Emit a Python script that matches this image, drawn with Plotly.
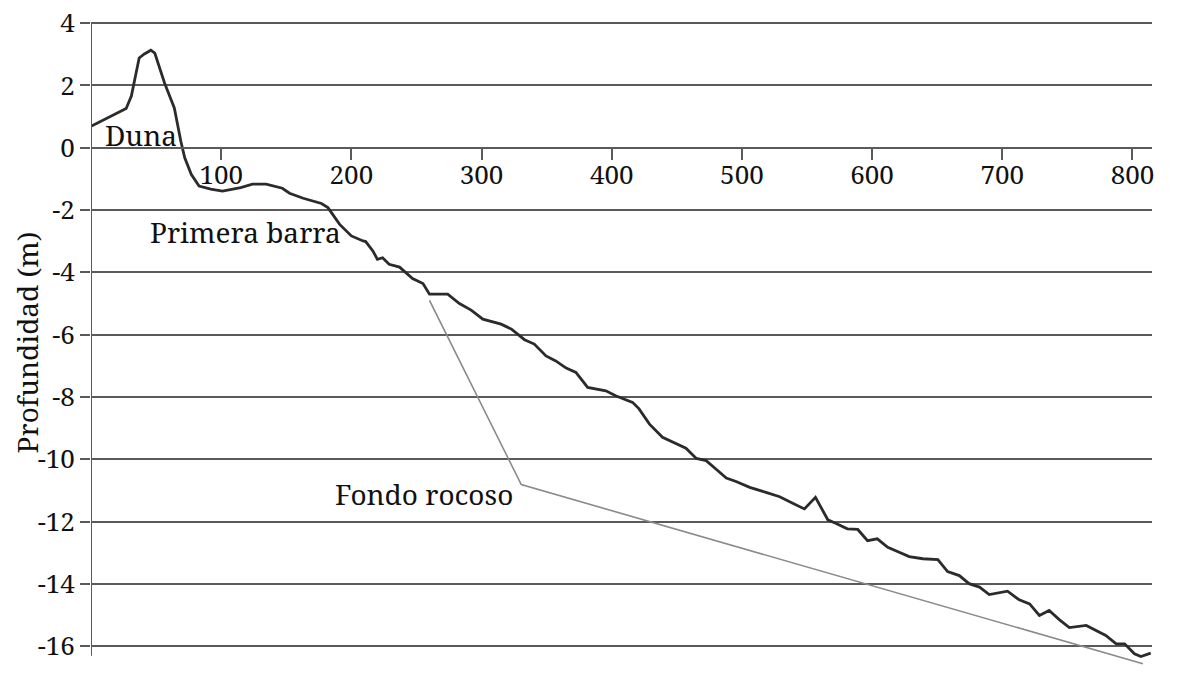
import plotly.graph_objects as go

# perfil de playa (distancia en m, cota en m)
distancia = [0, 27, 31, 37, 41, 46, 49, 56.5, 61, 64, 69, 72, 77, 83, 92, 101, 115,
             124, 134.5, 147, 152.5, 163, 177, 182, 191, 200, 209, 211, 216.5, 220, 224,
             229, 237, 247, 255, 260, 274, 283, 292, 301, 315, 323, 333, 340.5, 349.5,
             357, 365, 372.5, 381.5, 395.5, 403, 416, 421, 429, 439, 449.5, 457, 465,
             472.5, 480, 488, 495.5, 506, 518.5, 529, 539, 548, 556.5, 566, 572, 581,
             589, 596.5, 604, 612, 619.5, 628.5, 639, 650.5, 658, 667, 674.5, 682.5,
             690, 704, 713, 721, 728.5, 736, 744, 751.5, 764.5, 772, 779.5, 787.5,
             794, 801.5, 806.5, 814]
cota = [0.69, 1.26, 1.66, 2.88, 3.01, 3.13, 3.04, 2.08, 1.60, 1.28, 0.21, -0.32, -0.85,
        -1.23, -1.33, -1.39, -1.28, -1.17, -1.17, -1.30, -1.46, -1.62, -1.79, -1.92,
        -2.46, -2.83, -2.99, -3.01, -3.31, -3.58, -3.53, -3.74, -3.83, -4.20, -4.36,
        -4.70, -4.70, -5.00, -5.21, -5.50, -5.66, -5.82, -6.16, -6.30, -6.68, -6.84,
        -7.07, -7.21, -7.69, -7.80, -7.96, -8.17, -8.38, -8.87, -9.29, -9.49, -9.64,
        -9.97, -10.04, -10.31, -10.60, -10.71, -10.90, -11.06, -11.20, -11.41, -11.59,
        -11.22, -11.94, -12.05, -12.23, -12.25, -12.61, -12.55, -12.82, -12.96, -13.12,
        -13.19, -13.22, -13.60, -13.73, -13.99, -14.10, -14.34, -14.23, -14.51, -14.64,
        -15.01, -14.85, -15.15, -15.40, -15.33, -15.49, -15.65, -15.92, -15.92, -16.24,
        -16.33, -16.22]

# fondo rocoso
roca_x = [260, 330.5, 808]
roca_y = [-4.9, -10.81, -16.56]

x_ticks = [100, 200, 300, 400, 500, 600, 700, 800]
y_ticks = [4, 2, 0, -2, -4, -6, -8, -10, -12, -14, -16]
y_labels = [str(v) for v in y_ticks]

etiquetas = ["Duna", "Primera barra", "Fondo rocoso"]
etiq_x = [38.5, 119, 256]
etiq_y = [0.41, -2.7, -11.1]

FONT = "Noto Serif"
GRID = "#5a5a5a"
y_range = [-16.6, 4.1]
x_range = [0, 815]

fig = go.Figure()
fig.add_trace(go.Scatter(x=roca_x, y=roca_y, mode="lines",
                         line=dict(color="#8a8a8a", width=1.6), showlegend=False))
fig.add_trace(go.Scatter(x=distancia, y=cota, mode="lines",
                         line=dict(color="#2b2b2b", width=2.8), showlegend=False))

for t, ax, ay in zip(etiquetas, etiq_x, etiq_y):
    fig.add_annotation(x=ax, y=ay, text=t, showarrow=False,
                       font=dict(family=FONT, size=28, color="#111"))

# eje vertical
fig.add_shape(type="line", x0=0, x1=0, y0=-16.3, y1=4, xref="x", yref="y",
              line=dict(color=GRID, width=2))

# la pagina html deja 8 px de margen, se descuentan aqui
fig.update_layout(
    width=1191, height=683,
    margin=dict(l=83, r=47, t=12, b=26),
    plot_bgcolor="white", paper_bgcolor="white",
    font=dict(family=FONT, size=26, color="#111"),
    xaxis=dict(range=x_range, tickvals=x_ticks, showgrid=False, zeroline=False,
               anchor="free", position=(0 - y_range[0]) / (y_range[1] - y_range[0]),
               showline=True, linecolor=GRID, linewidth=2, automargin=False,
               ticks="outside", ticklen=11, tickwidth=2, tickcolor=GRID,
               ticklabelstandoff=-7,
               tickfont=dict(family=FONT, size=26)),
    yaxis=dict(range=y_range, tickvals=y_ticks, ticktext=y_labels, automargin=False,
               ticklabeloverflow="allow",
               showgrid=True, gridcolor=GRID, gridwidth=2, zeroline=False,
               showline=False, ticks="outside", ticklen=10, tickwidth=2, tickcolor=GRID,
               tickfont=dict(family=FONT, size=26),
               title=dict(text="Profundidad (m)", font=dict(family=FONT, size=28), standoff=4)),
)

fig.write_html("out.html")
